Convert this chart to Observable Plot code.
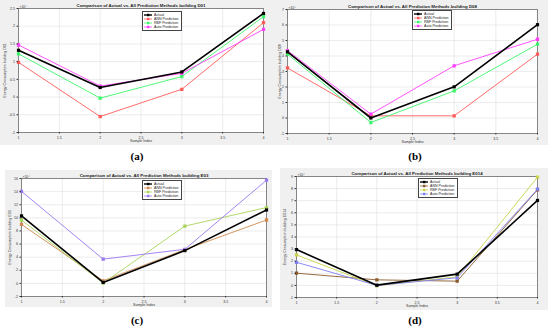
<!DOCTYPE html>
<html><head><meta charset="utf-8">
<script src="https://cdn.jsdelivr.net/npm/d3@7"></script>
<script src="https://cdn.jsdelivr.net/npm/@observablehq/plot@0.6"></script>
<style>
body{margin:0;background:#fff;font-family:"Liberation Sans",Arial,sans-serif;}
#root{position:relative;width:550px;height:329px;overflow:hidden;background:#fff;}
.panel{position:absolute;}
.panel svg{display:block;}
.cap{position:absolute;font-family:"Liberation Serif","DejaVu Serif",serif;font-size:11px;font-weight:bold;transform:translateX(-50%);line-height:1;}
.leg{position:absolute;background:#fff;border:0.6px solid #444;font-size:3.6px;line-height:4.2px;padding:0.5px 2px 0.5px 1px;font-family:"Liberation Sans",Arial,sans-serif;color:#222;}
.leg div{display:flex;align-items:center;white-space:nowrap;}
.leg svg{margin-right:2px;}
</style>
</head><body>
<div id="root"></div>
<script>
// ---- data ----
const sampleIndex = [1, 2, 3, 4];
const seriesNames = ["Actual", "ANN Prediction", "RBF Prediction", "Auto Prediction"];
const xTicks = [1, 1.5, 2, 2.5, 3, 3.5, 4];

const d01Actual = [1.32, 0.27, 0.71, 2.36];
const d01ANN    = [0.98, -0.55, 0.22, 2.10];
const d01RBF    = [1.22, -0.03, 0.58, 2.27];
const d01Auto   = [1.47, 0.31, 0.67, 1.91];
const d01Ticks  = [-1, -0.5, 0, 0.5, 1, 1.5, 2, 2.5];

const d08Actual = [4.27, 0.00, 2.01, 6.02];
const d08ANN    = [3.23, 0.14, 0.14, 4.12];
const d08RBF    = [4.12, -0.29, 1.75, 4.76];
const d08Auto   = [4.35, 0.25, 3.37, 5.08];
const d08Ticks  = [-1, 0, 1, 2, 3, 4, 5, 6, 7];

const e03Actual = [10.3, 0.15, 5.0, 11.2];
const e03ANN    = [9.0, 0.4, 5.15, 9.67];
const e03RBF    = [9.67, 0.05, 8.74, 11.57];
const e03Auto   = [14.04, 3.7, 5.2, 15.74];
const e03Ticks  = [-2, 0, 2, 4, 6, 8, 10, 12, 14, 16];

const e014Actual = [2.96, 0.02, 0.93, 7.02];
const e014ANN    = [1.01, 0.46, 0.35, 7.90];
const e014RBF    = [2.52, -0.03, 0.71, 8.95];
const e014Auto   = [1.91, 0.00, 0.63, 7.95];
const e014Ticks  = [-1, 0, 1, 2, 3, 4, 5, 6, 7, 8, 9];

// ---- styles / layout ----
const colorsAB = ["#000000", "#ff5a5a", "#3cf56a", "#ff40ff"];
const colorsC  = ["#000000", "#d08a50", "#a8d45a", "#9a78ee"];
const colorsD  = ["#000000", "#8a5a2a", "#c8d44a", "#7f7ff5"];

const panels = [
  {name:"D01", series:[d01Actual,d01ANN,d01RBF,d01Auto], ticks:d01Ticks, domain:[-1,2.5], colors:colorsAB,
   left:0, top:0, w:275, h:145, mL:18, mR:12, mT:8, mB:13, cap:"(a)", capX:137, capY:151, legX:142, legY:11},
  {name:"D08", series:[d08Actual,d08ANN,d08RBF,d08Auto], ticks:d08Ticks, domain:[-1,7], colors:colorsAB,
   left:275, top:0, w:273, h:145, mL:12, mR:11, mT:9, mB:12, cap:"(b)", capX:415, capY:151, legX:412, legY:10},
  {name:"E03", series:[e03Actual,e03ANN,e03RBF,e03Auto], ticks:e03Ticks, domain:[-2,16], colors:colorsC,
   left:5, top:170, w:267, h:137, mL:16, mR:6, mT:8, mB:11, cap:"(c)", capX:137, capY:315, legX:142, legY:180},
  {name:"E014", series:[e014Actual,e014ANN,e014RBF,e014Auto], ticks:e014Ticks, domain:[-1,9], colors:colorsD,
   left:280, top:168, w:268, h:142, mL:16, mR:11, mT:8, mB:13, cap:"(d)", capX:415, capY:315, legX:418, legY:178}
];

const root = document.getElementById("root");

for (const p of panels) {
  const rows = [];
  p.series.forEach((vals, si) => {
    vals.forEach((v, i) => rows.push({x: sampleIndex[i], y: v, s: seriesNames[si]}));
  });
  const color = {domain: seriesNames, range: p.colors};
  const actualRows = rows.filter(d => d.s === "Actual");
  const otherRows = rows.filter(d => d.s !== "Actual");
  const chart = Plot.plot({
    width: p.w, height: p.h,
    marginLeft: p.mL, marginRight: p.mR, marginTop: p.mT, marginBottom: p.mB,
    style: {background: "#f0f0f0", fontSize: "3.6px", fontFamily: "Liberation Sans, Arial, sans-serif", color: "#333", overflow: "visible"},
    x: {domain: [1, 4]},
    y: {domain: p.domain},
    color,
    marks: [
      Plot.frame({fill: "#ffffff"}),
      Plot.gridX(xTicks, {stroke: "#d8d8d8", strokeOpacity: 1, strokeWidth: 0.5}),
      Plot.gridY(p.ticks, {stroke: "#d8d8d8", strokeOpacity: 1, strokeWidth: 0.5}),
      Plot.frame({stroke: "#444", strokeWidth: 0.6}),
      Plot.lineY(otherRows, {x: "x", y: "y", z: "s", stroke: "s", strokeWidth: 0.9}),
      Plot.dot(otherRows, {x: "x", y: "y", stroke: "s", fill: "s", r: 1, symbol: "square"}),
      Plot.lineY(actualRows, {x: "x", y: "y", stroke: "s", strokeWidth: 1.6}),
      Plot.dot(actualRows, {x: "x", y: "y", fill: "s", r: 1.8, symbol: "square"}),
      Plot.text(["Comparison of Actual vs. All Prediction Methods building " + p.name], {frameAnchor: "top", dy: -4.5, fontWeight: "bold", fontSize: 4.4, fill: "#222"}),
      Plot.text(["×10⁴"], {frameAnchor: "top-left", dx: 1, dy: -2.5, fontSize: 3.4, textAnchor: "start", fill: "#333"}),
      Plot.axisX({ticks: xTicks, tickSize: 1.5, tickPadding: 2, anchor: "bottom", tickFormat: d => String(d),
        label: "Sample Index", labelAnchor: "center", labelArrow: "none", labelOffset: 9}),
      Plot.axisY({ticks: p.ticks, tickSize: 1.5, tickPadding: 2, anchor: "left", tickFormat: d => String(d),
        label: "Energy Consumption building " + p.name, labelAnchor: "center", labelArrow: "none", labelOffset: p.mL - 3})
    ]
  });
  const div = document.createElement("div");
  div.className = "panel";
  div.style.left = p.left + "px";
  div.style.top = p.top + "px";
  div.appendChild(chart);
  root.appendChild(div);

  // legend
  const leg = document.createElement("div");
  leg.className = "leg";
  leg.style.left = p.legX + "px";
  leg.style.top = p.legY + "px";
  seriesNames.forEach((n, i) => {
    const row = document.createElement("div");
    const sw = p.colors[i];
    const lw = i === 0 ? 1.4 : 0.8;
    row.innerHTML = `<svg width="8" height="4"><line x1="0" y1="2" x2="8" y2="2" stroke="${sw}" stroke-width="${lw}"/><rect x="3" y="0.8" width="2.4" height="2.4" fill="${sw}"/></svg><span>${n}</span>`;
    leg.appendChild(row);
  });
  root.appendChild(leg);

  const cap = document.createElement("div");
  cap.className = "cap";
  cap.style.left = p.capX + "px";
  cap.style.top = p.capY + "px";
  cap.textContent = p.cap;
  root.appendChild(cap);
}
</script>
</body></html>
